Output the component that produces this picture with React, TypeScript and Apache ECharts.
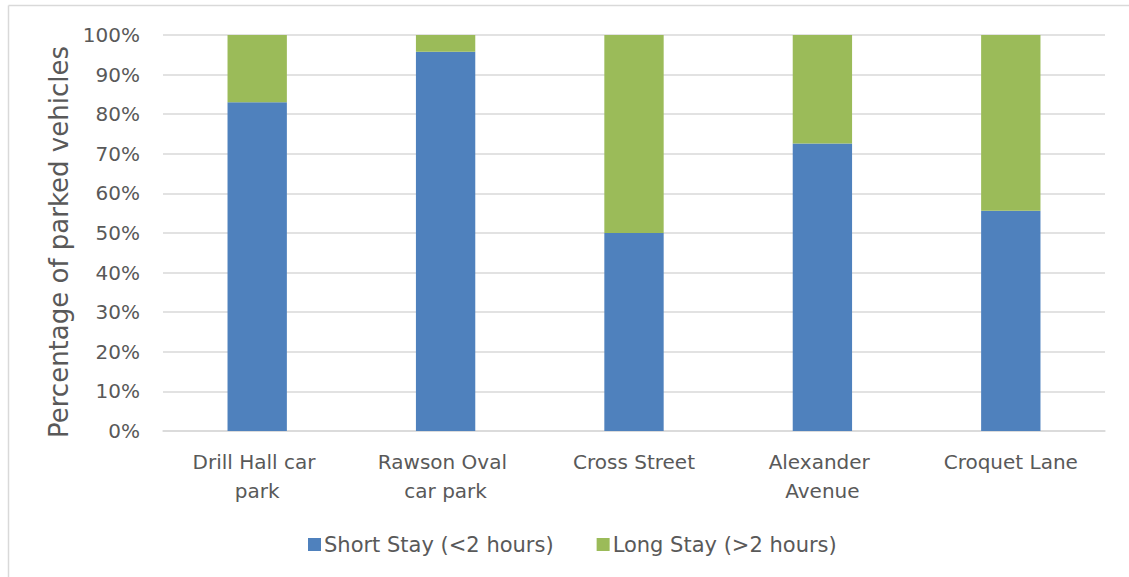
import React, { useEffect, useRef } from "react";
import * as echarts from "echarts";

const categories = [
  "Drill Hall car park",
  "Rawson Oval car park",
  "Cross Street",
  "Alexander Avenue",
  "Croquet Lane",
];
const shortStay = [83.0, 95.8, 50.0, 72.6, 55.6];
const longStay = [17.0, 4.2, 50.0, 27.4, 44.4];
const seriesNames = ["Short Stay (<2 hours)", "Long Stay (>2 hours)"];
const yAxisTitle = "Percentage of parked vehicles";

const FONT = "'DejaVu Sans', sans-serif";
const TEXT = "#595959";
const GRID = "#d9d9d9";

export default function App() {
  const ref = useRef<HTMLDivElement>(null);

  useEffect(() => {
    document.body.style.margin = "0";
    const chart = echarts.init(ref.current!, null, { renderer: "svg" });
    chart.setOption({
      animation: false,
      backgroundColor: "#ffffff",
      textStyle: { fontFamily: FONT, color: TEXT },
      grid: { left: 163, right: 24, top: 35, bottom: 146, containLabel: false },
      legend: {
        left: 303,
        top: 529,
        itemWidth: 13,
        itemHeight: 13,
        itemGap: 43,
        icon: "rect",
        textStyle: { fontFamily: FONT, fontSize: 21, color: TEXT, padding: [0, 0, 0, -2] },
        data: seriesNames,
      },
      xAxis: {
        type: "category",
        data: categories,
        axisLine: { show: true, lineStyle: { color: GRID, width: 1.5 } },
        axisTick: { show: false },
        axisLabel: {
          fontFamily: FONT,
          fontSize: 20,
          color: TEXT,
          margin: 16,
          lineHeight: 29,
          width: 150,
          overflow: "break",
          interval: 0,
        },
      },
      yAxis: {
        type: "value",
        min: 0,
        max: 100,
        interval: 10,
        name: yAxisTitle,
        nameLocation: "middle",
        nameGap: 90,
        nameTextStyle: {
          fontFamily: FONT,
          fontSize: 26,
          color: TEXT,
          padding: [0, 18, 0, 0],
        },
        axisLine: { show: false },
        axisTick: { show: false },
        axisLabel: {
          fontFamily: FONT,
          fontSize: 20,
          color: TEXT,
          margin: 23,
          formatter: "{value}%",
        },
        splitLine: { lineStyle: { color: GRID, width: 1.5 } },
      },
      series: [
        {
          name: seriesNames[0],
          type: "bar",
          stack: "total",
          barWidth: "31.5%",
          itemStyle: { color: "#4F81BD" },
          data: shortStay,
        },
        {
          name: seriesNames[1],
          type: "bar",
          stack: "total",
          barWidth: "31.5%",
          itemStyle: { color: "#9BBB59" },
          data: longStay,
        },
      ],
      graphic: [
        {
          type: "line",
          shape: { x1: 8.5, y1: 5.5, x2: 1129, y2: 5.5 },
          style: { stroke: GRID, lineWidth: 1.5 },
        },
        {
          type: "line",
          shape: { x1: 8.5, y1: 5.5, x2: 8.5, y2: 577 },
          style: { stroke: GRID, lineWidth: 1.5 },
        },
      ],
    });
    return () => chart.dispose();
  }, []);

  return <div ref={ref} style={{ width: 1129, height: 577 }} />;
}
